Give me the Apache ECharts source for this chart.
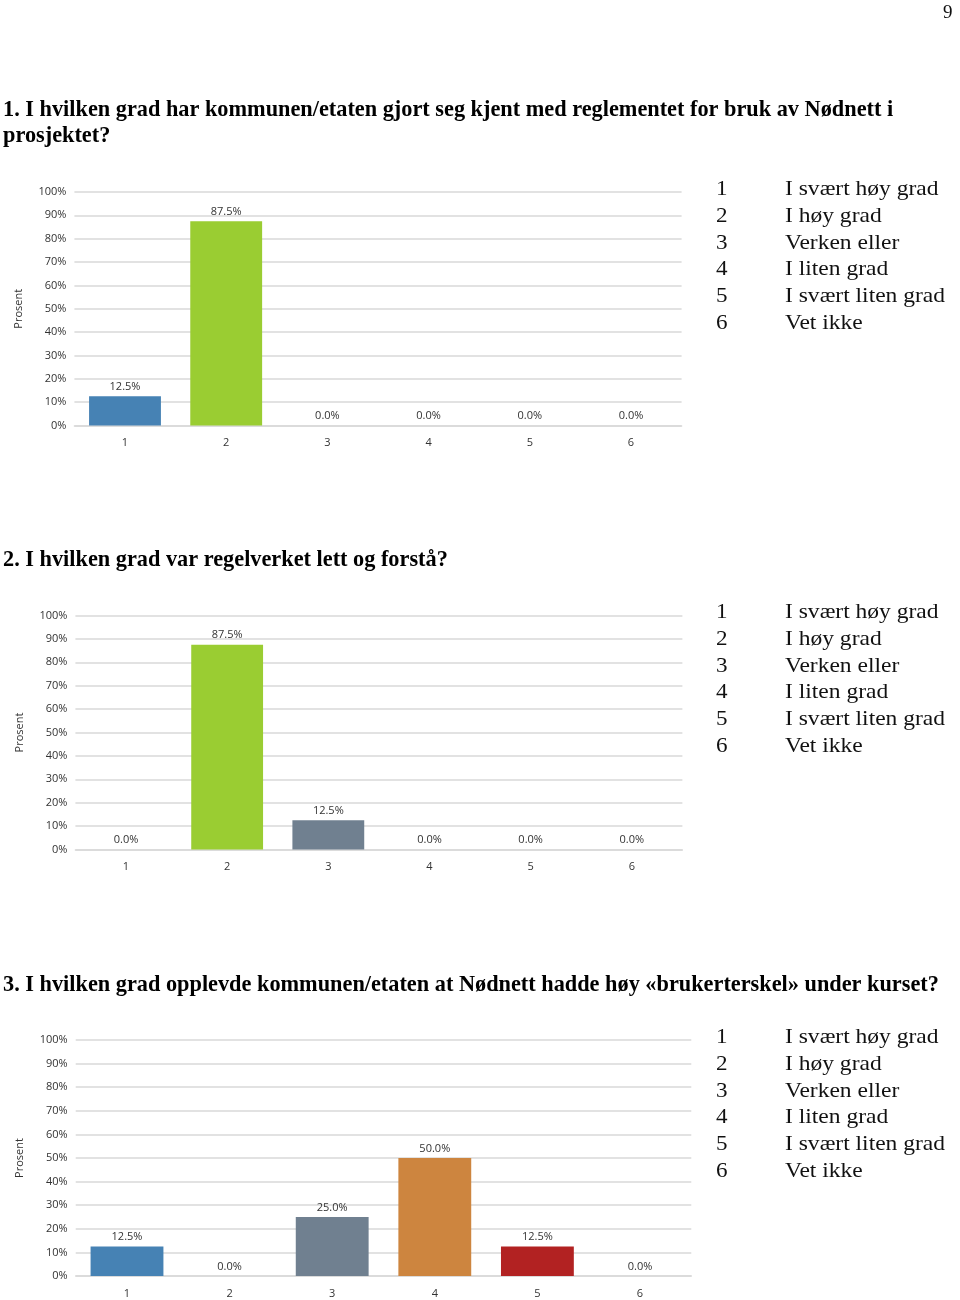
<!DOCTYPE html>
<html>
<head>
<meta charset="utf-8">
<script src="https://cdn.jsdelivr.net/npm/echarts@6/dist/echarts.min.js"></script>
<style>html,body{margin:0;padding:0;background:#fff;}#c{width:960px;height:1300px;}</style>
</head>
<body>
<div id="c"></div>
<script>
const categories = ['1', '2', '3', '4', '5', '6'];
const q1Values = [12.5, 87.5, 0.0, 0.0, 0.0, 0.0];
const q2Values = [0.0, 87.5, 12.5, 0.0, 0.0, 0.0];
const q3Values = [12.5, 0.0, 25.0, 50.0, 12.5, 0.0];
const barColors = ['#4682B4', '#9ACD32', '#708090', '#CD853F', '#B22222', '#5F9EA0'];
const legendLabels = ['I svært høy grad', 'I høy grad', 'Verken eller', 'I liten grad', 'I svært liten grad', 'Vet ikke'];
const titles = [
  ['1. I hvilken grad har kommunen/etaten gjort seg kjent med reglementet for bruk av Nødnett i', 'prosjektet?'],
  ['2. I hvilken grad var regelverket lett og forstå?'],
  ['3. I hvilken grad opplevde kommunen/etaten at Nødnett hadde høy «brukerterskel» under kurset?']
];
const yAxisName = 'Prosent';
const pageNumber = '9';

const grids = [
  {left: 74.4, top: 192, width: 607.2, height: 233.5},
  {left: 75.4, top: 615.5, width: 607, height: 234},
  {left: 75.7, top: 1040, width: 615.6, height: 236}
];
const datasets = [q1Values, q2Values, q3Values];
const titleY = [110, 560, 985];
const legendY = [189.5, 612.5, 1037.5];

const chart = echarts.init(document.getElementById('c'), null, {renderer: 'canvas'});
const gridColor = '#d9d9d9';
const labelFont = '"Open Sans", sans-serif';

const option = {
  animation: false,
  backgroundColor: '#fff',
  grid: grids.map(g => Object.assign({containLabel: false}, g)),
  xAxis: grids.map((g, i) => ({
    type: 'category', gridIndex: i, data: categories,
    axisLine: {show: true, lineStyle: {color: gridColor, width: 1.5}},
    axisTick: {show: false},
    axisLabel: {color: '#333', fontSize: 11, fontFamily: labelFont, margin: 12}
  })),
  yAxis: grids.map((g, i) => ({
    type: 'value', gridIndex: i, min: 0, max: 100, interval: 10,
    name: yAxisName, nameLocation: 'middle', nameRotate: 90, nameGap: 50,
    nameTextStyle: {color: '#333', fontSize: 11, fontFamily: labelFont},
    axisLine: {show: false}, axisTick: {show: false},
    axisLabel: {formatter: '{value}%', color: '#333', fontSize: 11, fontFamily: labelFont, margin: 8},
    splitLine: {show: true, lineStyle: {color: gridColor, width: 1.5}}
  })),
  series: datasets.map((d, i) => ({
    type: 'bar', xAxisIndex: i, yAxisIndex: i,
    data: d.map((v, j) => ({value: v, itemStyle: {color: barColors[j]}})),
    barCategoryGap: '29%',
    label: {show: true, position: 'top', distance: 4, color: '#333', fontSize: 11, fontFamily: labelFont,
      formatter: p => p.value.toFixed(1) + '%'}
  })),
  graphic: []
};

const g = option.graphic;
g.push({type: 'text', x: 943, y: 4, style: {text: pageNumber, font: '19px "Liberation Serif", serif', fill: '#111'}});
titles.forEach((lines, i) => {
  lines.forEach((t, k) => {
    g.push({type: 'text', x: 3, y: titleY[i] + k * 26,
      style: {text: t, font: 'bold 22.3px "Liberation Serif", serif', fill: '#000', verticalAlign: 'middle'}});
  });
});
legendY.forEach(y0 => {
  legendLabels.forEach((t, k) => {
    const y = y0 + k * 26.8;
    g.push({type: 'text', x: 716, y: y, scaleX: 1.1, style: {text: String(k + 1), font: '21px "Liberation Serif", serif', fill: '#111', verticalAlign: 'middle'}});
    g.push({type: 'text', x: 785, y: y, scaleX: 1.12, style: {text: t, font: '21px "Liberation Serif", serif', fill: '#111', verticalAlign: 'middle'}});
  });
});

chart.setOption(option);
</script>
</body>
</html>
